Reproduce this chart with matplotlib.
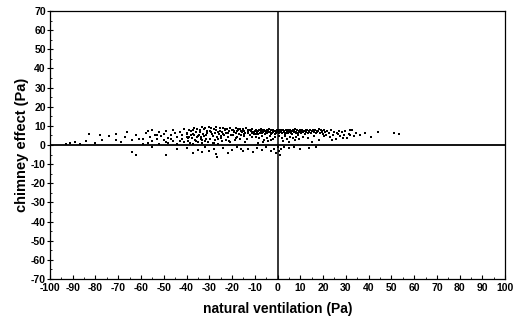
import matplotlib.pyplot as plt
from matplotlib.ticker import MultipleLocator

# scatter, grouped by x band
far_left_x = [-93, -91, -89, -87, -84, -83, -80, -78, -77, -74, -71, -71, -69, -67, -66, -64, -62, -61]
far_left_y = [0.5, 1.0, 1.5, 0.8, 2.0, 6.0, 1.2, 5.0, 2.6, 4.5, 6.0, 2.6, 1.5, 4.0, 7.0, 2.6, 5.5, 3.0]

left_x = [-59, -58, -57, -56, -55, -55, -54, -53, -52, -52, -51, -50, -50, -49, -48, -48, -47, -46,
          -46, -45, -44, -44, -43, -42, -42, -41, -41, -40, -40, -59, -53, -47, -43, -57, -49]
left_y = [3, 6.5, 1, 4, 8, 2, 5.5, 3, 7, 0.5, 4.5, 6, 2.5, 7.5, 3.5, 1, 5, 8,
          2, 6.5, 4, 0.8, 7, 3, 5.5, 8.5, 1.5, 6, 4, 0.5, 5, 3, 2, 7.5, 1.5]

mid1_x = [-39.8, -39.5, -39.1, -38.8, -38.4, -38.0, -37.7, -37.3, -37.0, -36.6, -36.2, -35.9, -35.5, -35.2,
          -34.8, -34.5, -34.1, -33.8, -33.4, -33.1, -32.7, -32.4, -32.0, -31.7, -31.3, -31.0, -30.6, -30.3,
          -39.3, -38.2, -37.1, -36.0, -35.0, -34.0, -33.0, -32.2, -31.5, -30.8, -36.8, -33.6]
mid1_y = [6.2, 2.1, 8.0, 4.3, 1.0, 7.1, 3.5, 5.8, 0.6, 9.0, 2.8, 6.6, 4.1, 8.5,
          1.7, 5.2, 7.7, 3.0, 9.3, 0.9, 6.0, 4.6, 8.8, 2.3, 5.5, 7.4, 1.4, 9.6,
          3.8, 5.0, 7.9, 1.9, 4.8, 6.9, 2.5, 8.2, 3.3, 6.4, 5.3, 4.0]

mid2_x = [-29.8, -29.5, -29.1, -28.8, -28.4, -28.1, -27.7, -27.4, -27.0, -26.7, -26.3, -26.0, -25.6, -25.3,
          -24.9, -24.6, -24.2, -23.9, -23.5, -23.2, -22.8, -22.5, -22.1, -21.8, -21.4, -21.1, -20.7, -20.4,
          -29.3, -28.2, -27.2, -26.2, -25.1, -24.1, -23.0, -22.0, -21.2, -20.2, -27.9, -24.8]
mid2_y = [7.5, 3.2, 9.1, 5.6, 1.2, 8.3, 6.4, 2.7, 9.4, 4.4, 7.0, 0.8, 5.9, 8.7,
          3.6, 6.8, 1.9, 9.0, 5.1, 7.8, 2.5, 6.1, 8.4, 4.0, 7.3, 1.5, 8.9, 5.4,
          6.7, 4.8, 8.0, 3.0, 7.2, 5.7, 8.6, 6.3, 2.2, 7.6, 1.0, 4.5]

mid3_x = [-19.8, -19.5, -19.1, -18.8, -18.4, -18.1, -17.7, -17.4, -17.0, -16.7, -16.3, -16.0, -15.6, -15.3,
          -14.9, -14.6, -14.2, -13.9, -13.5, -13.2, -12.8, -12.5, -12.1, -11.8, -11.4, -11.1, -10.7, -10.4,
          -19.2, -18.3, -17.2, -16.2, -15.1, -14.1, -13.0, -12.0, -11.2, -10.2, -17.9, -14.8]
mid3_y = [8.1, 5.0, 7.2, 2.4, 8.8, 6.5, 4.1, 7.9, 6.0, 8.5, 3.3, 7.1, 6.6, 8.2,
          4.7, 7.4, 6.2, 8.7, 2.9, 7.7, 6.9, 8.0, 5.3, 7.5, 6.3, 8.4, 7.0, 5.8,
          6.8, 3.9, 8.3, 5.5, 7.6, 1.8, 6.4, 7.8, 4.2, 6.7, 7.3, 5.9]

band1_x = [-9.9, -9.6, -9.3, -9.0, -8.7, -8.4, -8.1, -7.8, -7.5, -7.2, -6.9, -6.6, -6.3, -6.0, -5.7,
           -5.4, -5.1, -4.8, -4.5, -4.2, -3.9, -3.6, -3.3, -3.0, -2.7, -2.4, -2.1, -1.8, -1.5, -1.2,
           -0.9, -0.6, -0.3, -9.4, -8.2, -7.0, -5.8, -4.6, -3.4, -2.2, -1.0, -6.4, -4.0, -8.8, -2.8]
band1_y = [7.2, 6.0, 8.1, 6.8, 7.5, 5.7, 7.9, 6.4, 7.1, 8.3, 6.2, 7.6, 6.9, 8.0, 5.9,
           7.3, 6.6, 7.8, 6.1, 7.4, 8.2, 6.7, 7.0, 5.8, 7.7, 6.3, 8.0, 6.9, 7.2, 5.6,
           7.5, 6.5, 7.9, 4.2, 3.5, 4.8, 2.6, 3.9, 4.5, 3.0, 4.0, 1.5, 2.2, 1.2, 2.7]

band2_x = [0.2, 0.5, 0.8, 1.1, 1.4, 1.7, 2.0, 2.3, 2.6, 2.9, 3.2, 3.5, 3.8, 4.1, 4.4,
           4.7, 5.0, 5.3, 5.6, 5.9, 6.2, 6.5, 6.8, 7.1, 7.4, 7.7, 8.0, 8.3, 8.6, 8.9,
           9.2, 9.5, 9.8, 0.7, 1.9, 3.1, 4.3, 5.5, 6.7, 7.9, 9.1, 2.5, 5.0, 7.5, 9.6]
band2_y = [7.0, 6.1, 7.8, 6.6, 7.3, 8.0, 6.3, 7.6, 6.9, 7.2, 5.9, 7.9, 6.5, 7.4, 8.1,
           6.2, 7.1, 6.8, 7.7, 6.4, 7.5, 6.0, 7.9, 6.7, 7.2, 8.2, 6.4, 7.0, 7.6, 6.1,
           7.4, 6.8, 7.8, 4.5, 3.8, 4.9, 3.2, 4.4, 3.6, 4.1, 5.0, 2.0, 1.6, 2.4, 3.0]

band3_x = [10.2, 10.5, 10.9, 11.2, 11.6, 11.9, 12.3, 12.6, 13.0, 13.3, 13.7, 14.0, 14.4, 14.7,
           15.1, 15.4, 15.8, 16.1, 16.5, 16.8, 17.2, 17.5, 17.9, 18.2, 18.6, 18.9, 19.3, 19.6,
           20.0, 20.3, 20.7, 21.0, 21.4, 21.8, 11.0, 13.5, 16.0, 18.4, 20.5, 15.0]
band3_y = [7.1, 6.4, 7.8, 6.8, 7.3, 6.0, 7.6, 7.0, 8.0, 6.5, 7.2, 6.9, 7.7, 6.2,
           7.4, 8.1, 6.6, 7.1, 7.9, 6.3, 7.5, 6.8, 7.2, 8.3, 6.1, 7.6, 6.9, 7.3,
           5.8, 7.8, 6.7, 7.0, 5.5, 7.4, 4.2, 3.5, 4.8, 2.8, 4.5, 1.5]

right_x = [22.5, 23.0, 23.6, 24.2, 24.8, 25.5, 26.0, 26.8, 27.5, 28.2, 29.0, 29.8, 30.5, 31.2,
           32.0, 32.8, 33.6, 34.5, 23.8, 26.4, 28.8, 31.6, 36.0, 38.5, 41.0, 44.0, 51.0, 53.5]
right_y = [6.5, 4.0, 7.8, 5.2, 7.0, 3.1, 6.2, 7.5, 4.8, 6.8, 5.5, 7.2, 3.8, 6.0,
           5.0, 7.6, 4.5, 6.4, 2.5, 5.8, 3.6, 8.0, 5.5, 6.2, 4.0, 6.8, 6.5, 5.8]

neg_x = [-64, -62, -55, -49, -44, -40, -37, -35, -32, -30, -28, -26.5, -24, -22, -20, -18, -15, -13, -11,
         -9, -7, -5, -3, -1.5, -0.5, 0.3, 0.6, 0.9, 1.5, 3, 5, 7, 10, 14, 17, -33, -27, -16]
neg_y = [-3.5, -5.2, -1, -5.2, -2, -1.5, -4, -2.5, -1, -3, -2, -6.3, -1.5, -4, -2.5, -1, -3, -2, -3.5,
         -1.5, -2.5, -1, -3, -2, -4, -1, -3, -5, -2, -1, -1.5, -1, -2, -1.5, -1, -3.5, -4.5, -2]

x_ticks = list(range(-100, 101, 10))
y_ticks = list(range(-70, 71, 10))

plt.rcParams['font.family'] = ['Liberation Sans', 'DejaVu Sans']
plt.rcParams['axes.unicode_minus'] = False

fig = plt.figure(figsize=(5.15, 3.3), dpi=100)
ax = fig.add_axes([0.097, 0.1545, 0.884, 0.812])

groups = [(far_left_x, far_left_y), (left_x, left_y), (mid1_x, mid1_y), (mid2_x, mid2_y),
          (mid3_x, mid3_y), (band1_x, band1_y), (band2_x, band2_y), (band3_x, band3_y),
          (right_x, right_y), (neg_x, neg_y)]
for gx, gy in groups:
    ax.scatter(gx, gy, s=4, marker='s', color='black', linewidths=0)

ax.axhline(0, color='black', lw=1.3)
ax.axvline(0, color='black', lw=1.1)

ax.set_xlim(-100, 100)
ax.set_ylim(-70, 70)
ax.set_xticks(x_ticks)
ax.set_yticks(y_ticks)
ax.xaxis.set_minor_locator(MultipleLocator(5))
ax.yaxis.set_minor_locator(MultipleLocator(5))
ax.tick_params(axis='x', which='major', direction='in', length=3, width=0.8, labelsize=7.5, pad=3)
ax.tick_params(axis='x', which='minor', direction='in', length=1.5, width=0.6)
ax.tick_params(axis='y', which='major', direction='inout', length=4, width=0.8, labelsize=7.5, pad=1)
ax.tick_params(axis='y', which='minor', direction='in', length=1.5, width=0.6)
for lab in ax.get_xticklabels() + ax.get_yticklabels():
    lab.set_fontweight('bold')

for sp in ax.spines.values():
    sp.set_linewidth(0.9)
    sp.set_color('black')

ax.set_xlabel('natural ventilation (Pa)', fontsize=10, fontweight='bold', labelpad=6)
ax.set_ylabel('chimney effect (Pa)', fontsize=10.5, fontweight='bold', labelpad=1)

fig.savefig('out.png', dpi=100)
